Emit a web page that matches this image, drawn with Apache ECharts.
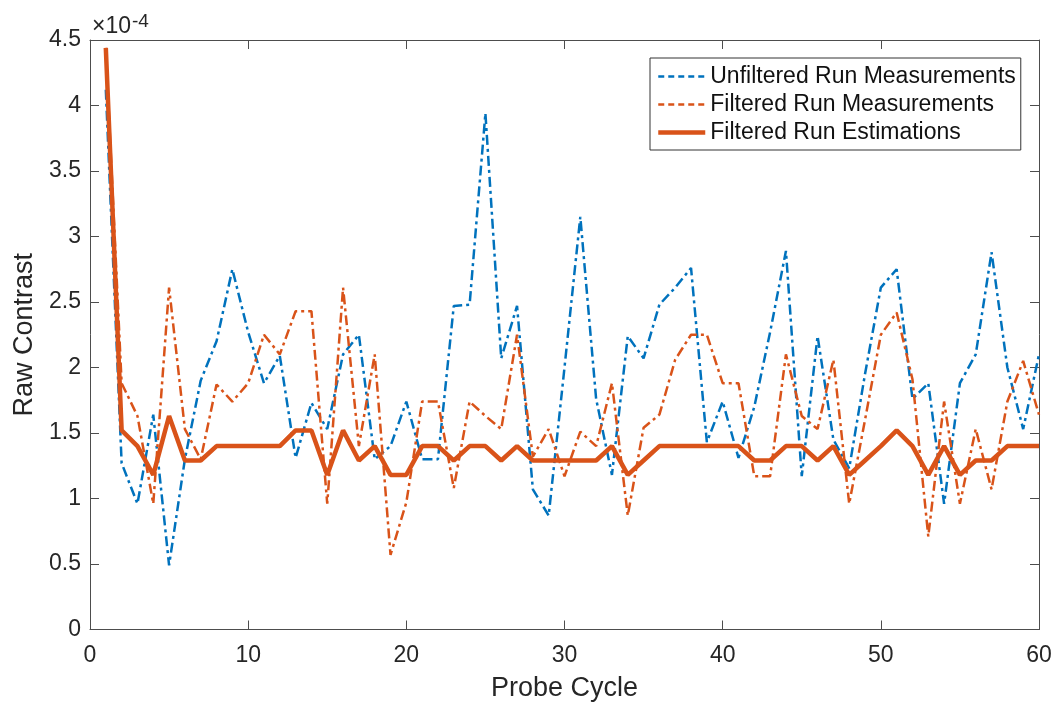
<!DOCTYPE html>
<html>
<head>
<meta charset="utf-8">
<script src="https://cdn.jsdelivr.net/npm/echarts@6/dist/echarts.min.js"></script>
<style>
html,body{margin:0;padding:0;background:#fff;}
#chart{width:1054px;height:702px;}
</style>
</head>
<body>
<div id="chart"></div>
<script>
// Probe cycles 1..60
const cycles = Array.from({length: 60}, (_, i) => i + 1);

// Raw contrast values (x 1e-4)
const unfilteredMeas = [4.12,1.27,0.96,1.64,0.49,1.30,1.90,2.20,2.75,2.27,
  1.88,2.09,1.31,1.73,1.53,2.10,2.25,1.30,1.40,1.74,
  1.30,1.30,2.47,2.48,3.94,2.07,2.47,1.07,0.87,2.00,
  3.15,1.76,1.18,2.24,2.07,2.48,2.61,2.76,1.43,1.74,
  1.31,1.70,2.27,2.89,1.17,2.24,1.45,1.23,1.95,2.61,
  2.75,1.76,1.88,0.96,1.88,2.10,2.88,2.00,1.53,2.10];

const filteredMeas = [4.44,1.88,1.63,0.96,2.61,1.53,1.30,1.87,1.74,1.88,
  2.25,2.10,2.43,2.43,0.96,2.61,1.40,2.10,0.57,0.97,
  1.74,1.74,1.08,1.74,1.63,1.53,2.25,1.32,1.53,1.17,
  1.51,1.40,1.88,0.87,1.54,1.64,2.06,2.25,2.25,1.88,
  1.88,1.17,1.17,2.10,1.63,1.53,2.06,0.96,1.60,2.25,
  2.42,1.91,0.71,1.74,0.96,1.53,1.07,1.74,2.05,1.64];

const filteredEst = [4.44,1.52,1.40,1.18,1.63,1.29,1.29,1.40,1.40,1.40,
  1.40,1.40,1.52,1.52,1.18,1.52,1.29,1.40,1.18,1.18,
  1.40,1.40,1.29,1.40,1.40,1.29,1.40,1.29,1.29,1.29,
  1.29,1.29,1.40,1.18,1.29,1.40,1.40,1.40,1.40,1.40,
  1.40,1.29,1.29,1.40,1.40,1.29,1.40,1.18,1.29,1.40,
  1.52,1.40,1.18,1.40,1.18,1.29,1.29,1.40,1.40,1.40];

const seriesNames = ['Unfiltered Run Measurements','Filtered Run Measurements','Filtered Run Estimations'];

const pairs = arr => cycles.map((c, i) => [c, arr[i]]);

const FONT = 'Liberation Sans, Arial, Helvetica, sans-serif';
const AX = '#4d4d4d';
const TXT = '#262626';
const BLUE = '#0072BD';
const ORANGE = '#D95319';
const DASHDOT = [10, 4, 3, 4];

const chart = echarts.init(document.getElementById('chart'), null, {renderer: 'canvas'});

const baseX = {
  type: 'value', min: 0, max: 60, interval: 10,
  axisLine: {show: true, onZero: false, lineStyle: {color: AX, width: 1}},
  axisTick: {show: true, inside: true, length: 9, lineStyle: {color: AX}},
  splitLine: {show: false}
};
const baseY = {
  type: 'value', min: 0, max: 4.5, interval: 0.5,
  axisLine: {show: true, onZero: false, lineStyle: {color: AX, width: 1}},
  axisTick: {show: true, inside: true, length: 9, lineStyle: {color: AX}},
  splitLine: {show: false}
};

chart.setOption({
  animation: false,
  backgroundColor: '#fff',
  textStyle: {fontFamily: FONT},
  title: {
    left: 92, top: 12, padding: 0,
    text: '{a|×10}{b|-4}',
    textStyle: {
      fontWeight: 'normal',
      rich: {
        a: {fontSize: 23, fontWeight: 'normal', fontFamily: FONT, color: TXT, verticalAlign: 'bottom', lineHeight: 26},
        b: {fontSize: 19, fontWeight: 'normal', fontFamily: FONT, color: TXT, verticalAlign: 'top', lineHeight: 26, padding: [0, 0, 12, 1]}
      }
    }
  },
  grid: {left: 90, right: 15, top: 40, bottom: 72.5, containLabel: false, outerBoundsMode: 'none'},
  legend: {
    orient: 'vertical',
    left: 650, top: 58,
    padding: [7, 5, 6, 6],
    itemGap: 5,
    itemWidth: 47, itemHeight: 14,
    borderColor: '#333', borderWidth: 1,
    backgroundColor: '#fff',
    itemStyle: {opacity: 0},
    textStyle: {fontSize: 23, fontFamily: FONT, color: '#111'},
    data: [
      {name: seriesNames[0], lineStyle: {width: 2.5, type: [6, 4]}},
      {name: seriesNames[1], lineStyle: {width: 2.5, type: [6, 4]}},
      {name: seriesNames[2], lineStyle: {width: 4.5, type: 'solid'}}
    ]
  },
  xAxis: [
    Object.assign({}, baseX, {
      position: 'bottom',
      name: 'Probe Cycle', nameLocation: 'middle', nameGap: 46,
      nameTextStyle: {fontSize: 27, fontFamily: FONT, color: TXT},
      axisLabel: {fontSize: 23, fontFamily: FONT, color: TXT, margin: 15}
    }),
    Object.assign({}, baseX, {position: 'top', axisLabel: {show: false}})
  ],
  yAxis: [
    Object.assign({}, baseY, {
      position: 'left',
      name: 'Raw Contrast', nameLocation: 'middle', nameGap: 41,
      nameTextStyle: {fontSize: 27, fontFamily: FONT, color: TXT},
      axisLabel: {fontSize: 23, fontFamily: FONT, color: TXT, margin: 9}
    }),
    Object.assign({}, baseY, {position: 'right', axisLabel: {show: false}})
  ],
  series: [
    {
      name: seriesNames[0], type: 'line', xAxisIndex: 0, yAxisIndex: 0,
      data: pairs(unfilteredMeas), symbol: 'none', showSymbol: false,
      lineStyle: {color: BLUE, width: 2.5, type: DASHDOT},
      itemStyle: {color: BLUE}, z: 2
    },
    {
      name: seriesNames[1], type: 'line', xAxisIndex: 0, yAxisIndex: 0,
      data: pairs(filteredMeas), symbol: 'none', showSymbol: false,
      lineStyle: {color: ORANGE, width: 2.5, type: DASHDOT},
      itemStyle: {color: ORANGE}, z: 3
    },
    {
      name: seriesNames[2], type: 'line', xAxisIndex: 0, yAxisIndex: 0,
      data: pairs(filteredEst), symbol: 'none', showSymbol: false,
      lineStyle: {color: ORANGE, width: 4.5, type: 'solid'},
      itemStyle: {color: ORANGE}, z: 4
    }
  ]
});
</script>
</body>
</html>
